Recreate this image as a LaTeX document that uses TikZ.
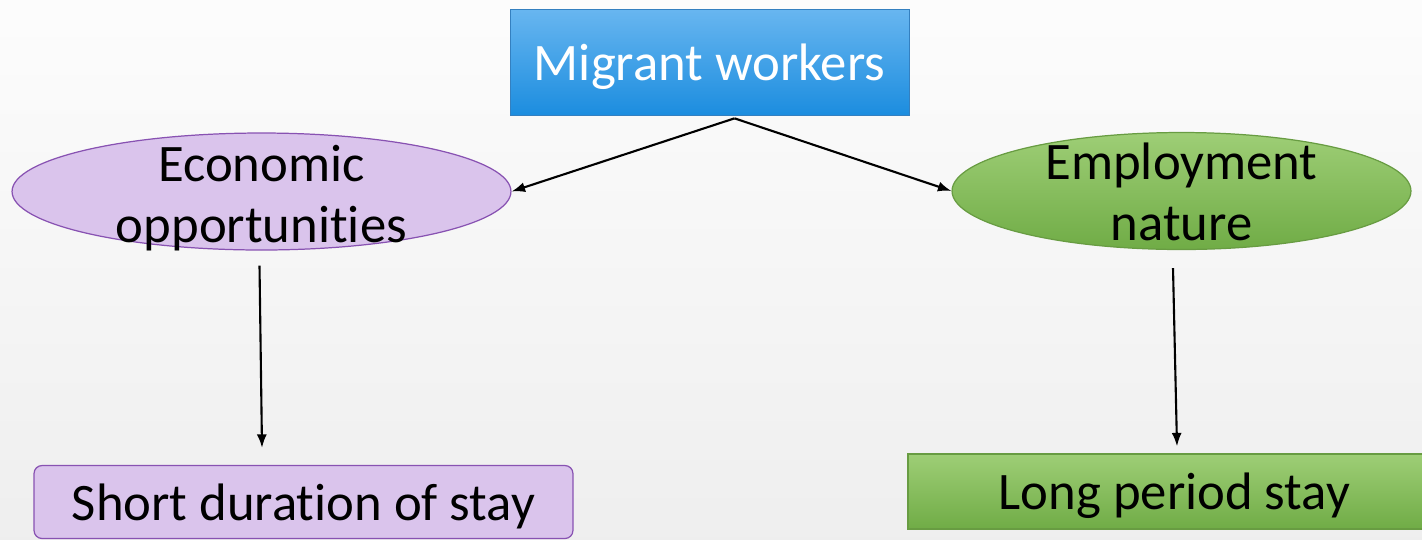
\documentclass[tikz,border=0pt]{standalone}
\usepackage{fontspec}
\setmainfont{Carlito}[Ligatures=NoCommon]
\usetikzlibrary{arrows.meta,shapes.geometric}

\definecolor{skyblue}{RGB}{104,182,240}
\definecolor{deepblue}{RGB}{28,141,223}
\definecolor{bluerim}{RGB}{52,128,192}
\definecolor{lilac}{RGB}{218,196,236}
\definecolor{lilacrim}{RGB}{136,82,178}
\definecolor{leaftop}{RGB}{158,206,118}
\definecolor{leaf}{RGB}{112,172,70}
\definecolor{leafrim}{RGB}{104,156,66}

\tikzset{
  label text/.style={font=\fontsize{30}{35}\selectfont, align=center},
  headbox/.style={rectangle, draw=bluerim, top color=skyblue, bottom color=deepblue,
    text=white, minimum width=7.98cm, minimum height=2.12cm, inner sep=0pt, text depth=0pt, label text},
  oval/.style={ellipse, minimum height=2.34cm, inner sep=0pt, line width=0.7pt},
  purple oval/.style={oval, minimum width=9.98cm, draw=lilacrim, fill=lilac},
  green oval/.style={oval, minimum width=9.18cm, draw=leafrim, top color=leaftop, bottom color=leaf},
  outcome/.style={rectangle, minimum height=1.46cm, inner sep=0pt, line width=0.7pt, text depth=0pt, label text},
}

\begin{document}
\begin{tikzpicture}[x=0.02cm, y=-0.02cm, >={Latex[length=0.27cm,width=0.2cm]},
    link/.style={->, line width=1.2pt}]
  \useasboundingbox (0,0) rectangle (1422,539);
  \shade[top color=gray!2, bottom color=gray!13] (0,0) rectangle (1422,539);

  % top box and the two causes
  \node [headbox] (migrant) at (709.5,62) {Migrant workers};
  \node [purple oval] (econ) at (261.5,191.5) {};
  \node [green oval] (employ) at (1181.5,191) {};
  \node [label text] (econtxt) [yshift=-0.13cm] at (econ) {Economic\\opportunities};
  \node [label text] (employtxt) [yshift=-0.02cm] at (employ) {Employment\\nature};

  % outcomes
  \node [outcome, rounded corners=0.16cm, draw=lilacrim, fill=lilac, minimum width=10.78cm]
    (short) at (303.5,502) {Short duration of stay};
  \node [outcome, draw=leafrim, top color=leaftop, bottom color=leaf, minimum width=10.66cm,
    minimum height=1.5cm] (long) at (1174.5,491.5) {Long period stay};

  \coordinate (fork) at ([xshift=0.5cm, yshift=-0.06cm]migrant.south);
  \path[link]
    (fork) edge (econ.east)
    (fork) edge (employ.west)
    ([xshift=-0.04cm, yshift=-0.3cm]econ.south) edge ([xshift=-0.83cm, yshift=0.34cm]short.north)
    ([xshift=-0.17cm, yshift=-0.36cm]employ.south) edge ([xshift=0.05cm, yshift=0.14cm]long.north);
\end{tikzpicture}
\end{document}
